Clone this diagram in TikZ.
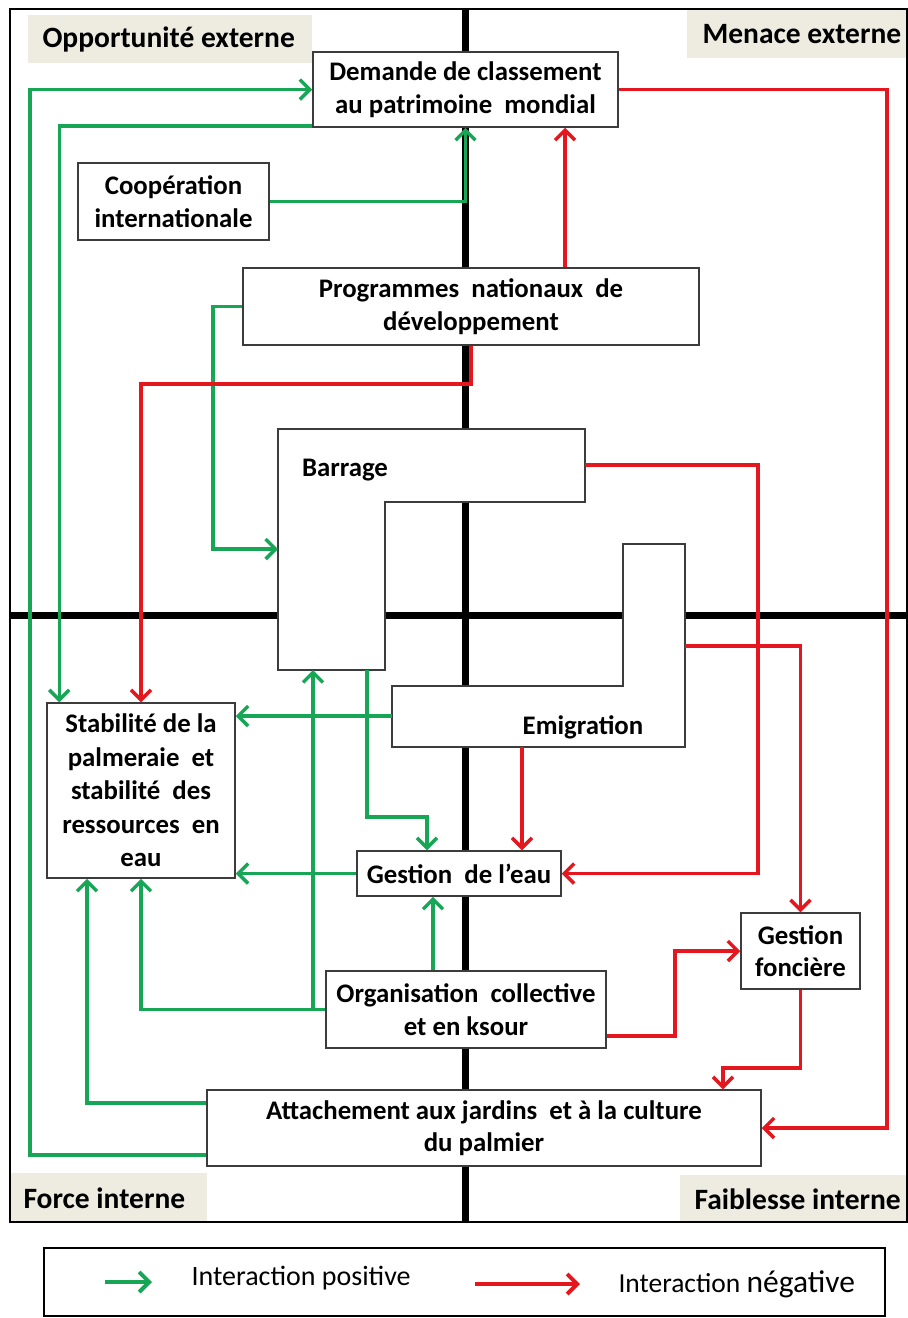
\documentclass[tikz,border=0pt]{standalone}
\usepackage{fontspec}
\setmainfont{Carlito}
\usetikzlibrary{arrows.meta,calc}
\definecolor{posgreen}{RGB}{22,166,86}
\definecolor{negred}{RGB}{228,22,30}
\definecolor{boxgray}{RGB}{60,60,60}
\definecolor{tanbg}{RGB}{238,236,225}
\newcommand\bxfont{\fontsize{26.8}{32.5}\selectfont\bfseries}
\newcommand\qfont{\fontsize{29.5}{34}\selectfont\bfseries}
\tikzset{
  box/.style={draw=boxgray, line width=1.5pt, fill=white, align=center, font=\bxfont, inner sep=0pt},
  lshape/.style={draw=boxgray, line width=1.5pt, fill=white},
  axisline/.style={line width=7pt, black},
  poslink/.style={draw=posgreen, line width=3.5pt, -{Straight Barb[length=10pt,width=20pt]}},
  neglink/.style={draw=negred, line width=3.5pt, -{Straight Barb[length=10pt,width=20pt]}},
}
\begin{document}
\begin{tikzpicture}[x=1pt,y=-1pt]
\useasboundingbox (0,0) rectangle (908,1318);
\fill[white] (0,0) rectangle (908,1318);
% quadrant label backgrounds
\fill[tanbg] (28,15) rectangle (312,63);
\fill[tanbg] (687,10) rectangle (908,58);
\fill[tanbg] (10,1173) rectangle (207,1222);
\fill[tanbg] (680,1175) rectangle (908,1222);
\node[font=\qfont, anchor=west] (qo) at (39,39) {Opportunité externe};
\node[font=\qfont, anchor=west] (qm) at (699,34) {Menace externe};
\node[font=\qfont, anchor=west] (qf) at (20,1198) {Force interne};
\node[font=\qfont, anchor=west] (qw) at (691,1199) {Faiblesse interne};
% frame and axes
\draw[line width=1.8pt] (10,9) rectangle (907,1222);
\draw[axisline] (465,9) -- (465,1222);
\draw[axisline] (10,615) -- (908,615);
% boxes
\node[box, minimum width=305pt, minimum height=75pt] (dem) at (465.5,89.5) {Demande de classement\\au patrimoine\ \ mondial};
\node[box, minimum width=191pt, minimum height=77pt] (coop) at (173.5,201.5) {Coopération\\internationale};
\node[box, minimum width=456pt, minimum height=77pt] (prog) at (471,306.5) {Programmes\ \ nationaux\ \ de\\développement};
\node[box, minimum width=188pt, minimum height=175pt, font=\fontsize{26.8}{33.5}\selectfont\bfseries] (stab) at (141,790.5) {Stabilité de la\\palmeraie\ \ et\\stabilité\ \ des\\ressources\ \ en\\eau};
\node[box, minimum width=204pt, minimum height=45pt] (ge) at (459,873.5) {Gestion\ \ de l’eau};
\node[box, minimum width=119pt, minimum height=76pt] (gf) at (800.5,951) {Gestion\\foncière};
\node[box, minimum width=280pt, minimum height=77pt] (org) at (466,1009.5) {Organisation\ \ collective\\et en ksour};
\node[box, minimum width=554pt, minimum height=76pt] (att) at (484,1128) {Attachement aux jardins\ \ et à la culture\\du palmier};
% L-shaped boxes
\draw[lshape] (278,429) -- (585,429) -- (585,502) -- (385,502) -- (385,670) -- (278,670) -- cycle;
\node[font=\bxfont] (bar) at (345,470) {Barrage};
\draw[lshape] (623,544) -- (685,544) -- (685,747) -- (392,747) -- (392,686) -- (623,686) -- cycle;
\node[font=\bxfont] (emi) at (583,727) {Emigration};
\coordinate (barW) at (278,549);
\coordinate (barE) at (585,465);
\coordinate (barS1) at (313,670);
\coordinate (barS2) at (367,670);
\coordinate (emiW) at (392,716);
\coordinate (emiE) at (685,646);
\coordinate (emiS) at (522,747);
% positive interactions
\draw[poslink] ([yshift=-27pt]att.west) -| (30,600) |- (dem.west);
\draw[poslink] ([yshift=2pt]dem.south west) -| ([xshift=13pt]stab.north west);
\draw[poslink] (coop.east) -| (dem.south);
\draw[poslink] (prog.west) -| (213,450) |- (barW);
\draw[poslink] (emiW) -- (emiW -| stab.east);
\draw[poslink] (barS2) -- (367,817) -| ([xshift=-32pt]ge.north);
\draw[poslink] (ge.west) -- (ge.west -| stab.east);
\draw[poslink] ([xshift=-33pt]org.north) -- ([xshift=-33pt]org.north |- ge.south);
\draw[poslink] (org.west) -| (stab.south);
\draw[poslink] (barS1 |- org.west) -- (barS1);
\draw[poslink] ([yshift=25pt]att.west) -| ([xshift=-54pt]stab.south);
% negative interactions
\draw[neglink] (dem.east) -| (887,600) |- (att.east);
\draw[neglink] ([xshift=94pt]prog.north) -- ([xshift=94pt]prog.north |- dem.south);
\draw[neglink] (prog.south) -- (471,384) -| (stab.north);
\draw[neglink] (barE) -| (758,600) |- (ge.east);
\draw[neglink] (emiE) -| (gf.north);
\draw[neglink] (emiS) -- (emiS |- ge.north);
\draw[neglink] ([yshift=-26.5pt]org.east) -| (675,990) |- (gf.west);
\coordinate (r8) at (723,1068);
\draw[neglink] (gf.south) |- (r8) -- (r8 |- att.north);
% legend
\draw[line width=1.8pt] (44,1248) rectangle (885,1316);
\coordinate (lg1) at (105,1282);
\coordinate (lg2) at (152,1282);
\coordinate (lr1) at (475,1284);
\coordinate (lr2) at (580,1284);
\draw[poslink, line width=4pt] (lg1) -- (lg2);
\draw[neglink, line width=4pt] (lr1) -- (lr2);
\node[font=\fontsize{28}{32}\selectfont, anchor=west] (lpos) at (188,1278) {Interaction positive};
\node[font=\fontsize{27.5}{32}\selectfont, anchor=west] (lneg) at (615,1284) {Interaction {\fontsize{31.5}{36}\selectfont négative}};
\end{tikzpicture}
\end{document}
